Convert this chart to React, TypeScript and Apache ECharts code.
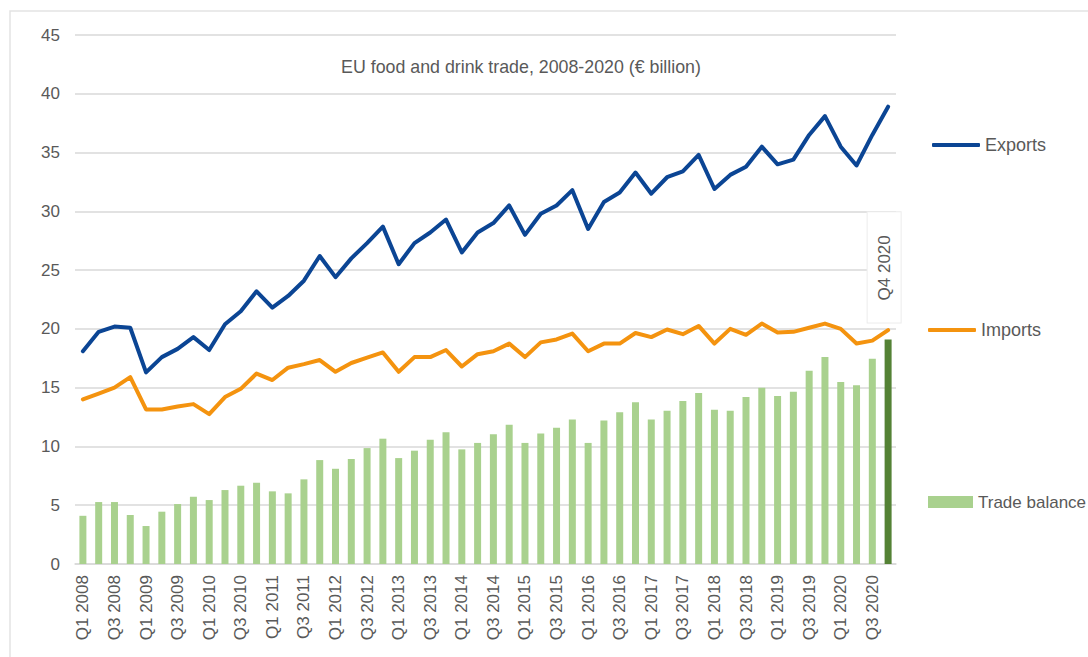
import React, { useEffect, useRef } from "react";
import * as echarts from "echarts";

const years = ["2008","2009","2010","2011","2012","2013","2014","2015","2016","2017","2018","2019","2020"];
const quarters = ["Q1","Q2","Q3","Q4"];
const categories: string[] = years.flatMap((y) => quarters.map((q) => `${q} ${y}`));

const exportsData = [
  18.1, 19.75, 20.2, 20.1, 16.3, 17.6, 18.3, 19.3, 18.2, 20.4, 21.5, 23.2, 21.8,
  22.8, 24.1, 26.2, 24.4, 26.0, 27.3, 28.7, 25.5, 27.3, 28.2, 29.3, 26.5, 28.2,
  29.0, 30.5, 28.0, 29.8, 30.5, 31.8, 28.5, 30.8, 31.6, 33.3, 31.5, 32.9, 33.4,
  34.8, 31.9, 33.1, 33.8, 35.5, 34.0, 34.4, 36.5, 38.1, 35.5, 33.9, 36.5, 38.9,
];
const importsData = [
  14.0, 14.5, 15.0, 15.9, 13.15, 13.15, 13.4, 13.6, 12.75, 14.2, 14.9, 16.2, 15.65,
  16.7, 17.0, 17.35, 16.35, 17.1, 17.55, 18.0, 16.35, 17.6, 17.6, 18.2, 16.8, 17.85,
  18.1, 18.75, 17.6, 18.85, 19.1, 19.6, 18.1, 18.75, 18.75, 19.65, 19.3, 19.95, 19.55,
  20.25, 18.75, 20.0, 19.5, 20.45, 19.7, 19.75, 20.1, 20.45, 20.0, 18.75, 19.0, 19.9,
];
const balanceData = [
  4.1, 5.27, 5.27, 4.17, 3.23, 4.45, 5.1, 5.72, 5.44, 6.29, 6.66, 6.91, 6.18,
  6.01, 7.2, 8.84, 8.1, 8.93, 9.86, 10.66, 9.01, 9.64, 10.57, 11.2, 9.75, 10.3,
  11.03, 11.85, 10.3, 11.11, 11.6, 12.3, 10.3, 12.2, 12.9, 13.75, 12.3, 13.04, 13.86,
  14.54, 13.12, 13.04, 14.2, 14.99, 14.29, 14.65, 16.44, 17.6, 15.48, 15.2, 17.46, 19.1,
];

const titleText = "EU food and drink trade, 2008-2020 (€ billion)";
const FONT = "'Liberation Sans', Arial, sans-serif";
const GREY = "#595959";
const BLUE = "#0b4594";
const ORANGE = "#f4930f";
const LIGHT_GREEN = "#a9d18e";
const DARK_GREEN = "#548235";

export default function App() {
  const ref = useRef<HTMLDivElement>(null);
  useEffect(() => {
    if (!ref.current) return;
    const chart = echarts.init(ref.current, undefined, { renderer: "svg" });
    const last = balanceData.length - 1;
    const barData = balanceData.map((v, i) =>
      i === last
        ? {
            value: v,
            itemStyle: { color: DARK_GREEN },
            label: {
              show: true,
              position: "top",
              rotate: 90,
              align: "left",
              verticalAlign: "middle",
              distance: 17,
              offset: [0, -4],
              formatter: categories[last],
              color: GREY,
              fontFamily: FONT,
              fontSize: 17,
              backgroundColor: "#ffffff",
              borderColor: "#ececec",
              borderWidth: 1,
              padding: [8, 23, 8, 22],
            },
          }
        : v
    );
    const legendBase = {
      orient: "vertical",
      padding: 0,
      textStyle: { color: GREY, fontFamily: FONT, fontSize: 18, lineHeight: 20 },
      selectedMode: false,
    };
    chart.setOption({
      animation: false,
      backgroundColor: "#ffffff",
      title: {
        text: titleText,
        left: 516,
        textAlign: "center",
        top: 53,
        textStyle: { color: GREY, fontFamily: FONT, fontSize: 17.8, fontWeight: "normal" },
      },
      graphic: [
        {
          type: "rect",
          shape: { x: 10, y: 11, width: 1200, height: 800 },
          style: { fill: "none", stroke: "#e3e3e3", lineWidth: 1.5 },
          silent: true,
          z: -1,
        },
      ],
      legend: [
        { ...legendBase, left: 932, top: 135, itemWidth: 48, itemHeight: 4, data: [{ name: "Exports", icon: "roundRect" }] },
        { ...legendBase, left: 928, top: 320, itemWidth: 48, itemHeight: 4, data: [{ name: "Imports", icon: "roundRect" }] },
        {
          ...legendBase,
          left: 928,
          top: 492,
          itemWidth: 45,
          itemHeight: 12,
          textStyle: { color: GREY, fontFamily: FONT, fontSize: 17, lineHeight: 20 },
          data: [{ name: "Trade balance", icon: "rect", itemStyle: { color: LIGHT_GREEN } }],
        },
      ],
      grid: { left: 75, right: 192, top: 35, bottom: 93, containLabel: false },
      xAxis: {
        type: "category",
        data: categories,
        boundaryGap: true,
        axisLine: { lineStyle: { color: "#d9d9d9", width: 1.5 } },
        axisTick: { show: false },
        axisLabel: {
          interval: 1,
          rotate: 90,
          color: GREY,
          fontFamily: FONT,
          fontSize: 17,
          margin: 11,
        },
      },
      yAxis: {
        type: "value",
        min: 0,
        max: 45,
        interval: 5,
        axisLine: { show: false },
        axisTick: { show: false },
        splitLine: { lineStyle: { color: "#d9d9d9", width: 1.5 } },
        axisLabel: { color: GREY, fontFamily: FONT, fontSize: 17, margin: 15 },
      },
      series: [
        {
          name: "Trade balance",
          type: "bar",
          data: barData,
          barWidth: 7,
          itemStyle: { color: LIGHT_GREEN },
          z: 2,
        },
        {
          name: "Imports",
          type: "line",
          data: importsData,
          symbol: "none",
          lineStyle: { color: ORANGE, width: 4, join: "round", cap: "round" },
          itemStyle: { color: ORANGE },
          z: 3,
        },
        {
          name: "Exports",
          type: "line",
          data: exportsData,
          symbol: "none",
          lineStyle: { color: BLUE, width: 4, join: "round", cap: "round" },
          itemStyle: { color: BLUE },
          z: 4,
        },
      ],
    });
    return () => chart.dispose();
  }, []);
  return (
    <div
      ref={ref}
      style={{ position: "fixed", left: 0, top: 0, width: 1088, height: 657 }}
    />
  );
}
